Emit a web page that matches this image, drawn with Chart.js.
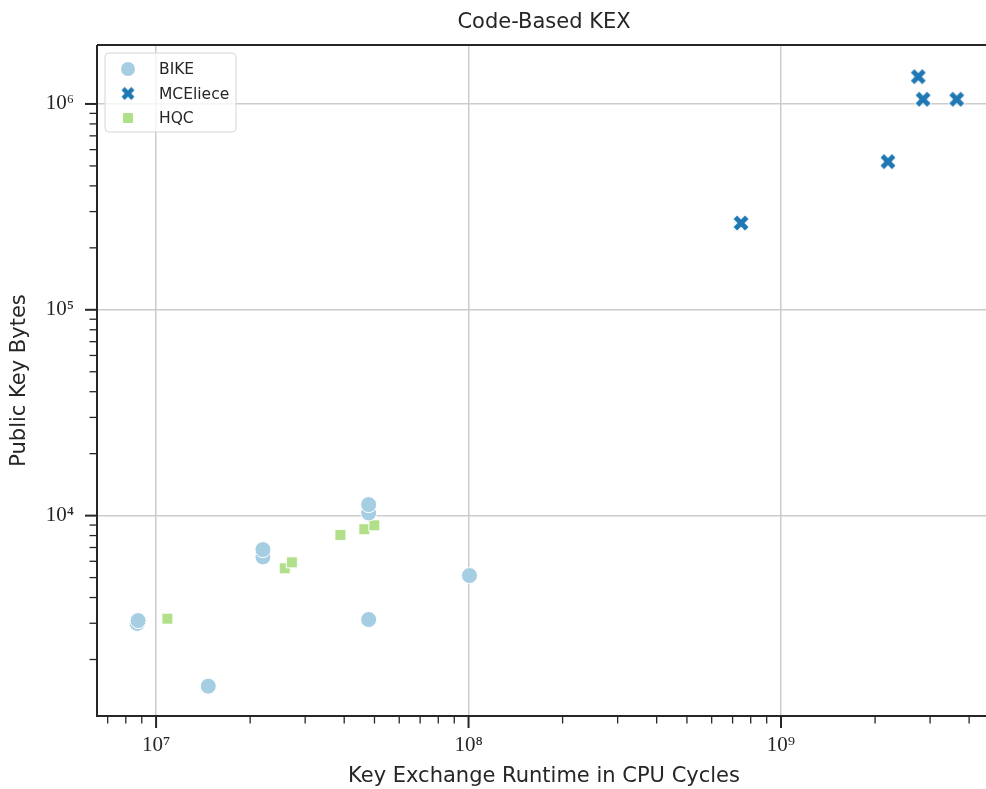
<!DOCTYPE html>
<html>
<head>
<meta charset="utf-8">
<script src="https://cdn.jsdelivr.net/npm/chart.js@4/dist/chart.umd.min.js"></script>
<style>
  html, body { margin: 0; padding: 0; background: #ffffff; overflow: hidden; }
  #wrap { position: relative; width: 1000px; height: 789px; }
</style>
</head>
<body>
<div id="wrap"><canvas id="c"></canvas></div>
<script>
// Key exchange runtime (CPU cycles) and public key size (bytes) per parameter set
const bikeCycles = [8.70e6, 8.76e6, 1.469e7, 2.198e7, 2.198e7, 4.79e7, 4.79e7, 4.79e7, 1.007e8];
const bikePk     = [2993,   3090,   1484,    6302,    6838,    10300,   11310,   3127,    5114];

const mcelieceCycles = [7.45e8, 2.20e9, 2.75e9, 2.85e9, 3.65e9];
const mceliecePk     = [2.64e5, 5.25e5, 1.357e6, 1.054e6, 1.054e6];

const hqcCycles = [1.087e7, 2.58e7, 2.72e7, 3.89e7, 4.64e7, 4.995e7];
const hqcPk     = [3157,    5547,   5929,   8058,   8587,   8971];

const seriesNames = ['BIKE', 'MCEliece', 'HQC'];
const seriesColors = ['#a6cee3', '#1f78b4', '#b2df8a'];

const INK = '#262626';
const SANS = '"DejaVu Sans", sans-serif';
const SERIF = '"Liberation Serif", "DejaVu Serif", serif';

// Filled "X" marker with a thin white edge
function makeX(half, thick, color) {
  const s = Math.ceil(half * 2 + 6);
  const cv = document.createElement('canvas');
  cv.width = s; cv.height = s;
  const g = cv.getContext('2d');
  const c = s / 2;
  const arms = (a) => {
    g.beginPath();
    g.moveTo(c - a, c - a); g.lineTo(c + a, c + a);
    g.moveTo(c - a, c + a); g.lineTo(c + a, c - a);
    g.stroke();
  };
  g.lineCap = 'butt';
  g.strokeStyle = '#ffffff'; g.lineWidth = thick + 1.6; arms(half + 0.6);
  g.strokeStyle = color; g.lineWidth = thick; arms(half);
  return cv;
}
const xMarker = makeX(5.7, 5, seriesColors[1]);
const xMarkerSmall = makeX(4.9, 4.4, seriesColors[1]);

const toPoints = (xs, ys) => xs.map((x, i) => ({ x: x, y: ys[i] }));

const SUP = { '0': '⁰', '1': '¹', '2': '²', '3': '³', '4': '⁴', '5': '⁵', '6': '⁶', '7': '⁷', '8': '⁸', '9': '⁹' };
const powLabel = (v) => {
  const e = Math.round(Math.log10(v));
  return '10' + String(e).split('').map(d => SUP[d]).join('');
};

// Log ticks at 1..9 × 10^k; only decades are major (labelled, gridded)
function logTicks(scale) {
  const t = [];
  const lo = Math.floor(Math.log10(scale.min));
  const hi = Math.ceil(Math.log10(scale.max));
  for (let e = lo; e <= hi; e++) {
    for (let m = 1; m <= 9; m++) {
      const v = m * Math.pow(10, e);
      if (v >= scale.min && v <= scale.max) t.push({ value: v, major: m === 1 });
    }
  }
  scale.ticks = t;
}

// Spines and tick marks
const framePlugin = {
  id: 'frame',
  afterDraw(chart) {
    const { ctx, chartArea: a, scales } = chart;
    ctx.save();
    ctx.strokeStyle = INK;
    scales.x.ticks.forEach(t => {
      const px = scales.x.getPixelForValue(t.value);
      ctx.lineWidth = t.major ? 2 : 1.3;
      ctx.beginPath();
      ctx.moveTo(px, a.bottom);
      ctx.lineTo(px, a.bottom + (t.major ? 12 : 7.5));
      ctx.stroke();
    });
    scales.y.ticks.forEach(t => {
      const py = scales.y.getPixelForValue(t.value);
      ctx.lineWidth = t.major ? 2 : 1.3;
      ctx.beginPath();
      ctx.moveTo(a.left, py);
      ctx.lineTo(a.left - (t.major ? 12 : 7.5), py);
      ctx.stroke();
    });
    ctx.lineWidth = 2;
    ctx.beginPath();
    ctx.moveTo(a.left, a.top); ctx.lineTo(a.right, a.top);
    ctx.moveTo(a.right, a.top); ctx.lineTo(a.right, a.bottom);
    ctx.moveTo(a.left, a.top); ctx.lineTo(a.left, a.bottom);
    ctx.moveTo(a.left - 1, a.bottom); ctx.lineTo(a.right, a.bottom);
    ctx.stroke();
    ctx.restore();
  }
};

// Legend box inside the upper-left corner of the plot
const innerLegend = {
  id: 'innerLegend',
  afterDatasetsDraw(chart) {
    const { ctx, chartArea: a } = chart;
    const x0 = a.left + 8, y0 = a.top + 8, w = 131, h = 79, r = 4;
    ctx.save();
    ctx.beginPath();
    ctx.roundRect(x0, y0, w, h, r);
    ctx.fillStyle = 'rgba(255,255,255,0.8)';
    ctx.fill();
    ctx.strokeStyle = '#d6d6d6';
    ctx.lineWidth = 1;
    ctx.stroke();
    ctx.font = '15.5px ' + SANS;
    ctx.textBaseline = 'middle';
    ctx.textAlign = 'left';
    seriesNames.forEach((name, i) => {
      const cy = y0 + 16 + i * 24.5;
      const cx = x0 + 23;
      ctx.fillStyle = seriesColors[i];
      if (i === 0) {
        ctx.beginPath(); ctx.arc(cx, cy, 7, 0, Math.PI * 2); ctx.fill();
      } else if (i === 1) {
        ctx.drawImage(xMarkerSmall, cx - xMarkerSmall.width / 2, cy - xMarkerSmall.height / 2);
      } else {
        ctx.fillRect(cx - 5, cy - 5, 10, 10);
      }
      ctx.fillStyle = INK;
      ctx.fillText(name, x0 + 54, cy + 1);
    });
    ctx.restore();
  }
};

const gridColor = (c) => (c.tick && c.tick.major ? '#cccccc' : 'rgba(0,0,0,0)');

new Chart(document.getElementById('c'), {
  type: 'scatter',
  data: {
    datasets: [
      {
        label: seriesNames[0],
        data: toPoints(bikeCycles, bikePk),
        pointStyle: 'circle',
        pointRadius: 8,
        backgroundColor: seriesColors[0],
        borderColor: '#ffffff',
        borderWidth: 1
      },
      {
        label: seriesNames[1],
        data: toPoints(mcelieceCycles, mceliecePk),
        pointStyle: xMarker,
        pointRadius: 8,
        backgroundColor: seriesColors[1],
        borderColor: seriesColors[1]
      },
      {
        label: seriesNames[2],
        data: toPoints(hqcCycles, hqcPk),
        pointStyle: 'rect',
        pointRadius: 7.8,
        backgroundColor: seriesColors[2],
        borderColor: '#ffffff',
        borderWidth: 1
      }
    ]
  },
  options: {
    responsive: true,
    maintainAspectRatio: false,
    animation: false,
    events: [],
    layout: { padding: { left: 0, right: 8, top: 0, bottom: 0 } },
    plugins: {
      legend: { display: false },
      tooltip: { enabled: false },
      title: {
        display: true,
        fullSize: false,
        text: 'Code-Based KEX',
        color: INK,
        font: { family: SANS, size: 21, weight: 'normal', lineHeight: 1.2 },
        padding: { top: 10, bottom: 9.8 }
      }
    },
    scales: {
      x: {
        type: 'logarithmic',
        min: 6.47e6,
        max: 4.7e9,
        afterBuildTicks: logTicks,
        afterFit: (s) => { s.height = 73; },
        grid: { color: gridColor, lineWidth: 1.5, drawTicks: false },
        border: { display: false },
        ticks: {
          autoSkip: false,
          maxRotation: 0,
          padding: 17,
          color: INK,
          font: { family: SERIF, size: 21 },
          callback: (v, i, ticks) => (ticks[i].major ? powLabel(v) : '')
        },
        title: {
          display: true,
          text: 'Key Exchange Runtime in CPU Cycles',
          color: INK,
          font: { family: SANS, size: 21, lineHeight: 1.2 },
          padding: { top: 0, bottom: 0 }
        }
      },
      y: {
        type: 'logarithmic',
        min: 1063,
        max: 1.934e6,
        afterBuildTicks: logTicks,
        afterFit: (s) => { s.width = 97; },
        grid: { color: gridColor, lineWidth: 1.5, drawTicks: false },
        border: { display: false },
        ticks: {
          autoSkip: false,
          padding: 23,
          color: INK,
          font: { family: SERIF, size: 21 },
          callback: (v, i, ticks) => (ticks[i].major ? powLabel(v) : '')
        },
        title: {
          display: true,
          text: 'Public Key Bytes',
          color: INK,
          font: { family: SANS, size: 21, lineHeight: 1.2 },
          padding: { top: 7.4, bottom: 0 }
        }
      }
    }
  },
  plugins: [framePlugin, innerLegend]
});
</script>
</body>
</html>
